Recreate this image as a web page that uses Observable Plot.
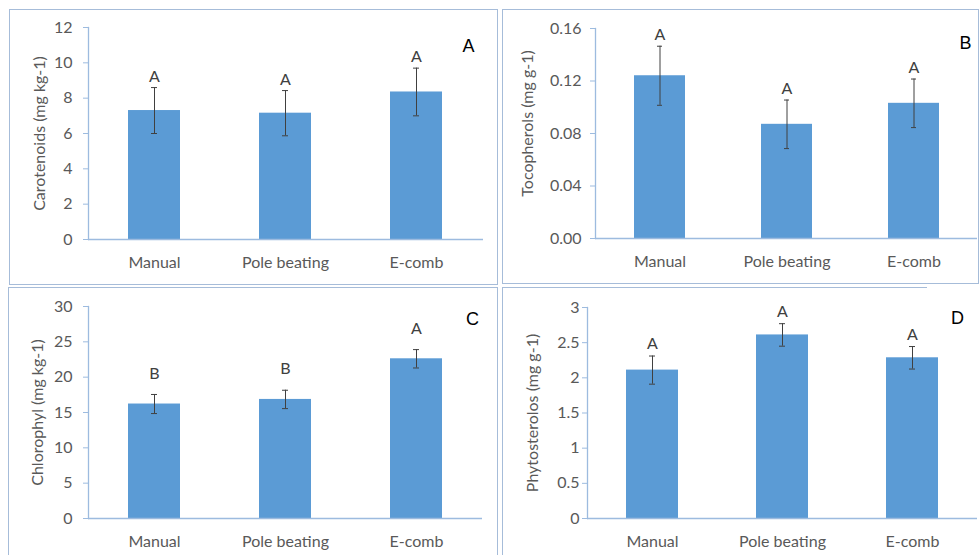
<!DOCTYPE html>
<html>
<head>
<meta charset="utf-8">
<script src="https://cdn.jsdelivr.net/npm/d3@7"></script>
<script src="https://cdn.jsdelivr.net/npm/@observablehq/plot@0.6"></script>
<style>
  html, body { margin: 0; padding: 0; background: #fff; }
  #root { position: relative; width: 979px; height: 555px; overflow: hidden; background: #fff; }
  .panel { position: absolute; }
  .border { position: absolute; box-sizing: border-box; border: 1.5px solid #a6bcd9; }
</style>
</head>
<body>
<div id="root"></div>
<script>
// ---------- DATA ----------
const categories = ["Manual", "Pole beating", "E-comb"];

const carotenoids = [7.3, 7.15, 8.35];
const carotenoidsSD = [1.3, 1.28, 1.35];
const carotenoidsLetters = ["A", "A", "A"];
const carotenoidsTicks = [0, 2, 4, 6, 8, 10, 12];

const tocopherols = [0.124, 0.087, 0.103];
const tocopherolsSD = [0.0225, 0.0185, 0.0185];
const tocopherolsLetters = ["A", "A", "A"];
const tocopherolsTicks = [0, 0.04, 0.08, 0.12, 0.16];

const chlorophyl = [16.2, 16.85, 22.6];
const chlorophylSD = [1.35, 1.3, 1.3];
const chlorophylLetters = ["B", "B", "A"];
const chlorophylTicks = [0, 5, 10, 15, 20, 25, 30];

const phytosterols = [2.11, 2.61, 2.285];
const phytosterolsSD = [0.2, 0.16, 0.16];
const phytosterolsLetters = ["A", "A", "A"];
const phytosterolsTicks = [0, 0.5, 1, 1.5, 2, 2.5, 3];

// ---------- STYLE ----------
const barColor = "#5b9bd5";
const axisColor = "#9dbbdf";
const textColor = "#595959";
const errColor = "#404040";
const font = "Lato, 'Open Sans', sans-serif";
const fs = 16;

function table(values, sd, letters) {
  return categories.map((c, i) => ({
    cat: c, value: values[i], lo: values[i] - sd[i], hi: values[i] + sd[i], letter: letters[i]
  }));
}

const panels = [
  { id: "A", data: table(carotenoids, carotenoidsSD, carotenoidsLetters), ticks: carotenoidsTicks,
    fmt: d3.format("d"), label: "Carotenoids (mg kg-1)",
    left: 10, top: 10, width: 487, height: 274, ml: 78, mt: 17, mb: 45, mr: 14,
    tickPad: 11, labDx: -49, labDy: 0, letDy: -11, pDx: -15, pDy: 12 },
  { id: "B", data: table(tocopherols, tocopherolsSD, tocopherolsLetters), ticks: tocopherolsTicks,
    fmt: d3.format(".2f"), label: "Tocopherols (mg g-1)",
    left: 503, top: 10, width: 476, height: 273, ml: 92, mt: 18, mb: 45, mr: 2,
    tickPad: 9, labDx: -68, labDy: -10, letDy: -11, pDx: -12, pDy: 8 },
  { id: "C", data: table(chlorophyl, chlorophylSD, chlorophylLetters), ticks: chlorophylTicks,
    fmt: d3.format("d"), label: "Chlorophyl (mg kg-1)",
    left: 9, top: 288, width: 488, height: 280, ml: 79, mt: 18, mb: 50, mr: 15,
    tickPad: 11, labDx: -51, labDy: 0, letDy: -21, pDx: -10, pDy: 6 },
  { id: "D", data: table(phytosterols, phytosterolsSD, phytosterolsLetters), ticks: phytosterolsTicks,
    fmt: d => String(d), label: "Phytosterolos (mg g-1)",
    left: 503, top: 288, width: 476, height: 280, ml: 84, mt: 19, mb: 50, mr: 2,
    tickPad: 3, labDx: -55, labDy: 0, letDy: -12, pDx: -20, pDy: 4 }
];

const root = document.getElementById("root");

// panel borders
const borders = [
  { left: 9, top: 9, width: 489, height: 276, css: "" },
  { left: 502, top: 9, width: 477, height: 275, css: "" },
  { left: 8, top: 287, width: 490, height: 300, css: "" },
  { left: 502, top: 287, width: 500, height: 300, css: "border-top:none;border-right:none;" },
  { left: 502, top: 287, width: 425, height: 2, css: "border:none;border-top:1.5px solid #a6bcd9;" }
];
for (const b of borders) {
  const d = document.createElement("div");
  d.className = "border";
  d.style.cssText = `left:${b.left}px;top:${b.top}px;width:${b.width}px;height:${b.height}px;${b.css}`;
  root.appendChild(d);
}

for (const p of panels) {
  const ymax = p.ticks[p.ticks.length - 1];
  const chart = Plot.plot({
    width: p.width,
    height: p.height,
    marginLeft: p.ml,
    marginTop: p.mt,
    marginBottom: p.mb,
    marginRight: p.mr,
    style: { fontFamily: font, background: "transparent", overflow: "visible" },
    x: { type: "band", domain: categories, paddingInner: 0.6, paddingOuter: 0.3, label: null },
    y: { domain: [0, ymax], label: null },
    marks: [
      Plot.barY(p.data, { x: "cat", y: "value", fill: barColor }),
      Plot.frame({ anchor: "left", stroke: axisColor, strokeWidth: 1.3 }),
      Plot.ruleY([0], { stroke: axisColor, strokeWidth: 1.3 }),
      Plot.axisY({ ticks: p.ticks, tickFormat: p.fmt, tickSize: 5, tickPadding: p.tickPad,
        stroke: axisColor, fill: textColor, fontSize: fs, label: null }),
      Plot.axisX({ tickSize: 0, tickPadding: 17, fill: textColor, fontSize: fs, label: null }),
      Plot.ruleX(p.data, { x: "cat", y1: "lo", y2: "hi", stroke: errColor, strokeWidth: 1 }),
      Plot.tickY(p.data, { x: "cat", y: "lo", stroke: errColor, strokeWidth: 1, insetLeft: 23, insetRight: 23 }),
      Plot.tickY(p.data, { x: "cat", y: "hi", stroke: errColor, strokeWidth: 1, insetLeft: 23, insetRight: 23 }),
      Plot.text(p.data, { x: "cat", y: "hi", text: "letter", dy: p.letDy, fill: errColor, fontSize: fs }),
      Plot.text([p.label], { frameAnchor: "left", textAnchor: "middle", dx: p.labDx, dy: p.labDy, rotate: -90,
        fill: textColor, fontSize: fs }),
      Plot.text([p.id], { frameAnchor: "top-right", textAnchor: "middle", dx: p.pDx, dy: p.pDy, fill: "#000",
        fontSize: 18, fontFamily: "'Liberation Sans', Arial, sans-serif" })
    ]
  });
  chart.classList.add("panel");
  chart.style.left = p.left + "px";
  chart.style.top = p.top + "px";
  root.appendChild(chart);
}
</script>
</body>
</html>
